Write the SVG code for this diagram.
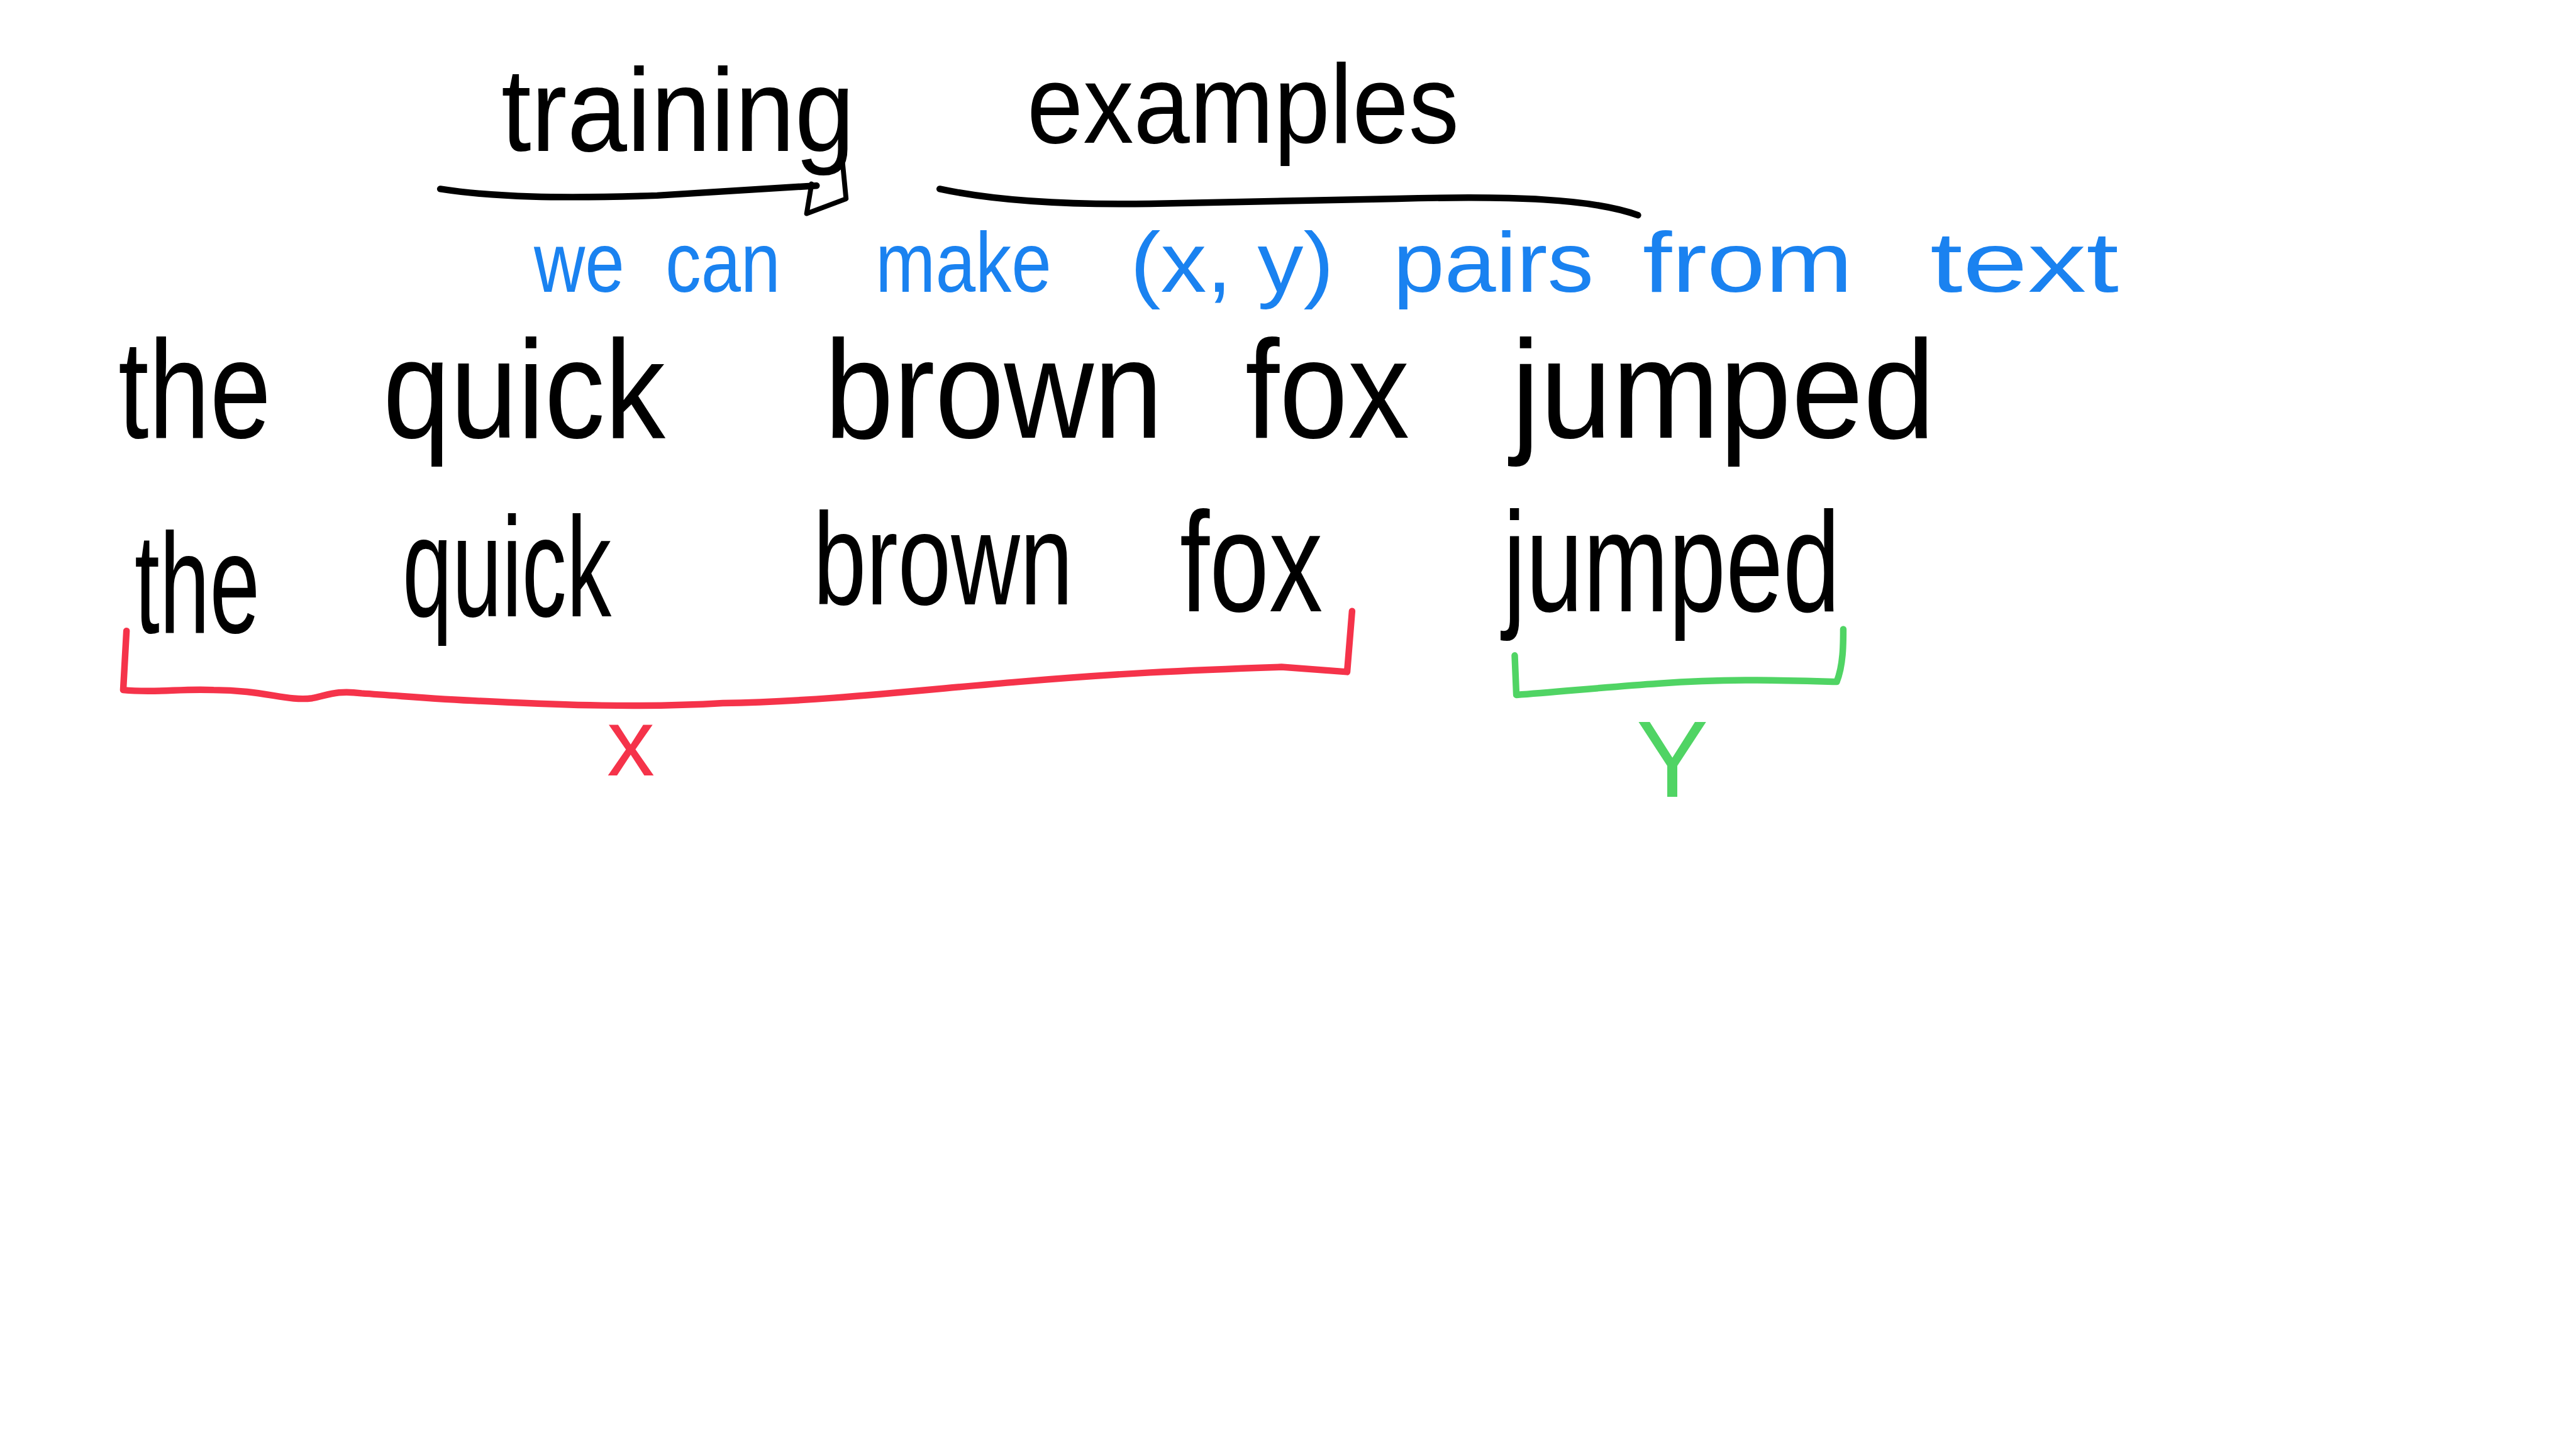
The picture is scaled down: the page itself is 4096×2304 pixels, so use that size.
<svg xmlns="http://www.w3.org/2000/svg" width="4096" height="2304" viewBox="0 0 4096 2304">
<style>
.t{font-family:"Liberation Sans","DejaVu Sans",sans-serif;}
.blk{fill:#000;}
.blu{fill:#1a82f0;font-size:136px;}
.r1{font-size:222px;}
.r2{font-size:226px;}
.ln{fill:none;stroke-linecap:round;stroke-linejoin:round;}
</style>
<rect width="4096" height="2304" fill="#fff"/>
<g id="title-training"><text class="t blk" x="797" y="240" font-size="188" textLength="562" lengthAdjust="spacingAndGlyphs">training</text></g>
<g id="title-examples"><text class="t blk" x="1633" y="227" font-size="178" textLength="687" lengthAdjust="spacingAndGlyphs">examples</text></g>
<g id="subtitle">
<text class="t blu" x="849" y="464" textLength="144" lengthAdjust="spacingAndGlyphs">we</text>
<text class="t blu" x="1058" y="464" textLength="183" lengthAdjust="spacingAndGlyphs">can</text>
<text class="t blu" x="1392" y="464" textLength="280" lengthAdjust="spacingAndGlyphs">make</text>
<text class="t blu" x="1797" y="464" textLength="324" lengthAdjust="spacingAndGlyphs">(x, y)</text>
<text class="t blu" x="2215" y="464" textLength="319" lengthAdjust="spacingAndGlyphs">pairs</text>
<text class="t blu" x="2612" y="464" textLength="334" lengthAdjust="spacingAndGlyphs">from</text>
<text class="t blu" x="3069" y="464" textLength="300" lengthAdjust="spacingAndGlyphs">text</text>
</g>
<g id="row1">
<text class="t blk r1" x="188" y="696" textLength="243" lengthAdjust="spacingAndGlyphs">the</text>
<text class="t blk r1" x="609" y="696" textLength="449" lengthAdjust="spacingAndGlyphs">quick</text>
<text class="t blk r1" x="1311" y="696" textLength="538" lengthAdjust="spacingAndGlyphs">brown</text>
<text class="t blk r1" x="1980" y="696" textLength="261" lengthAdjust="spacingAndGlyphs">fox</text>
<text class="t blk r1" x="2403" y="696" textLength="674" lengthAdjust="spacingAndGlyphs">jumped</text>
</g>
<g id="row2">
<text class="t blk r2" x="214" y="1006" textLength="199" lengthAdjust="spacingAndGlyphs">the</text>
<text class="t blk r2" x="640" y="980" textLength="332" lengthAdjust="spacingAndGlyphs">quick</text>
<text class="t blk" x="1293" y="961" font-size="208" textLength="413" lengthAdjust="spacingAndGlyphs">brown</text>
<text class="t blk r2" x="1876" y="972" textLength="227" lengthAdjust="spacingAndGlyphs">fox</text>
<text class="t blk r2" x="2390" y="972" textLength="536" lengthAdjust="spacingAndGlyphs">jumped</text>
</g>
<g id="label-x"><text class="t" x="1003" y="1233" font-size="152" fill="#f5334a" text-anchor="middle">x</text></g>
<g id="label-y"><text class="t" x="2659" y="1267" font-size="172" fill="#50d464" text-anchor="middle">Y</text></g>
<g id="connectors">
<g transform="scale(2.6122449)">
<path class="ln" stroke="#000" stroke-width="4" d="M268,115 C300,120 340,121 400,119 L497,113"/>
<path class="ln" stroke="#000" stroke-width="3" d="M494,112 L491,130 L515,121 L512,90"/>
<path class="ln" stroke="#000" stroke-width="4" d="M572,115 C600,121 640,125 700,124 L850,121 C920,119 970,121 997,131"/>
<path class="ln" stroke="#f5334a" stroke-width="4" d="M77,384 L75,420 C95,422 110,419 130,420 C160,420 175,427 190,425 C200,423 205,420 220,422 C250,424 270,426 300,427 C340,429 390,431 440,428 C500,427 560,420 620,415 C680,410 720,408 780,406 L820,409 L823,372"/>
<path class="ln" stroke="#50d464" stroke-width="4" d="M922,399 L923,423 C950,421 980,418 1010,416 C1050,413 1080,414 1118,415 C1122,405 1122,392 1122,383"/>
</g>
</g>
</svg>
